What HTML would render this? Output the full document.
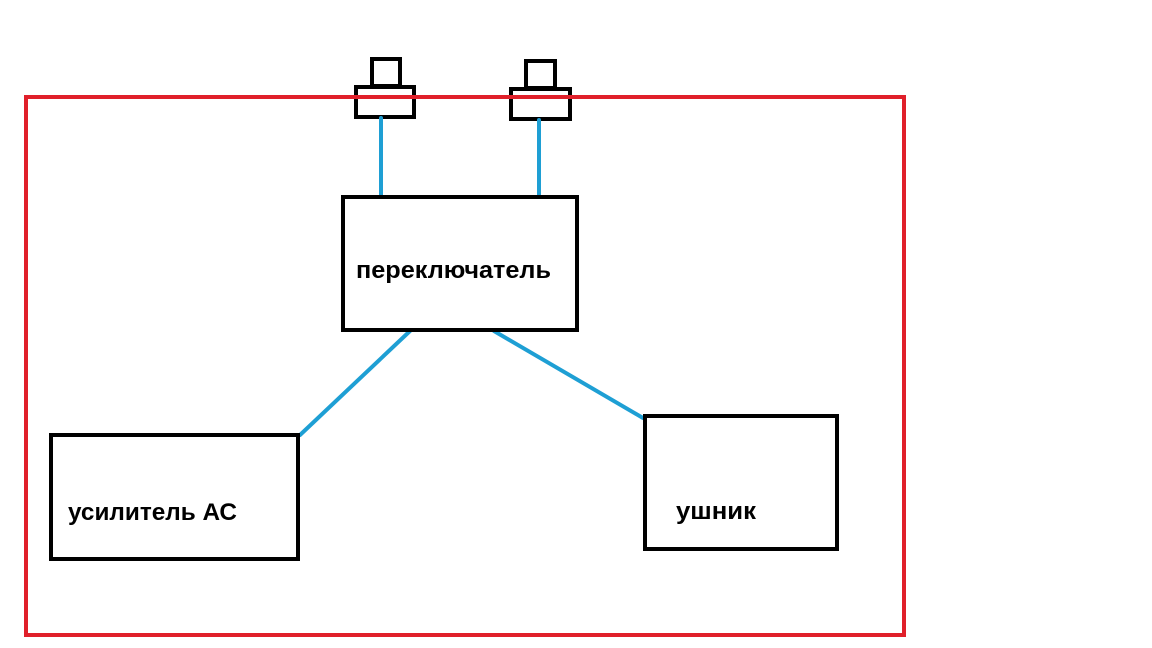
<!DOCTYPE html>
<html><head><meta charset="utf-8"><style>html,body{margin:0;padding:0;background:#fff;}svg{display:block}</style></head>
<body>
<svg width="1152" height="648" viewBox="0 0 1152 648" xmlns="http://www.w3.org/2000/svg">
<g fill="none" stroke="#000" stroke-width="4">
<rect x="372" y="59" width="28" height="27"/>
<rect x="356" y="87" width="58" height="30"/>
<rect x="526" y="61" width="29" height="27"/>
<rect x="511" y="89" width="59" height="30"/>
</g>
<rect x="26" y="97" width="878" height="538" fill="none" stroke="#e0202a" stroke-width="4"/>
<g stroke="#1e9fd4" stroke-width="4" stroke-linecap="round">
<line x1="381" y1="118" x2="381" y2="196"/>
<line x1="539" y1="120" x2="539" y2="196"/>
<line x1="410" y1="331" x2="300" y2="435"/>
<line x1="494" y1="331" x2="643" y2="418"/>
</g>
<g fill="none" stroke="#000" stroke-width="4">
<rect x="343" y="197" width="234" height="133"/>
<rect x="51" y="435" width="247" height="124"/>
<rect x="645" y="416" width="192" height="133"/>
</g>
<g font-family="Liberation Sans, sans-serif" font-weight="bold" font-size="24" fill="#000">
<text x="356" y="278" textLength="195" lengthAdjust="spacingAndGlyphs">переключатель</text>
<text x="68" y="520" textLength="169" lengthAdjust="spacingAndGlyphs">усилитель АС</text>
<text x="676" y="519" textLength="80" lengthAdjust="spacingAndGlyphs">ушник</text>
</g>
</svg>
</body></html>
